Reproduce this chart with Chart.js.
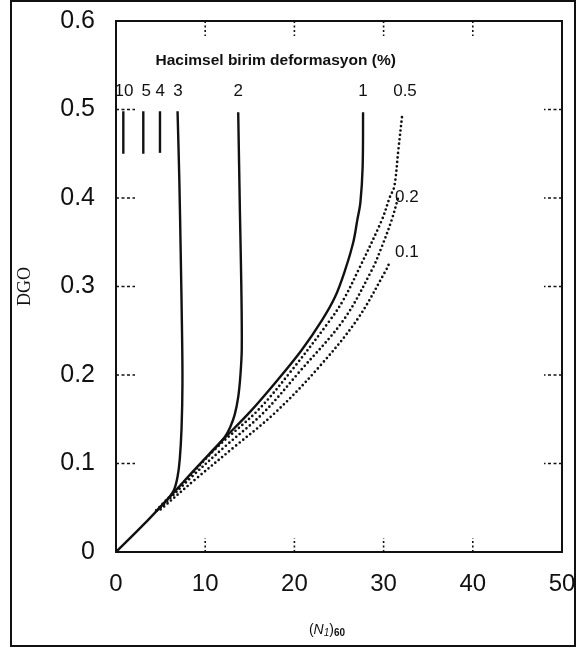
<!DOCTYPE html>
<html lang="tr">
<head>
<meta charset="UTF-8">
<title>DGO - (N1)60</title>
<script src="https://cdn.jsdelivr.net/npm/chart.js@4.4.1/dist/chart.umd.min.js"></script>
<style>
  html, body { margin: 0; padding: 0; background: #fff; }
  #wrap { position: relative; width: 582px; height: 650px; }
</style>
</head>
<body>
<div id="wrap"><canvas id="chart" width="582" height="650"></canvas></div>
<script>
// ---- data ----
const xTickValues = [0, 10, 20, 30, 40, 50];
const yTickValues = [0, 0.1, 0.2, 0.3, 0.4, 0.5, 0.6];

// short vertical marks (10, 5, 4 %)
const curve10X = [0.82, 0.82];
const curve10Y = [0.45, 0.498];
const curve5X = [3.06, 3.06];
const curve5Y = [0.45, 0.498];
const curve4X = [4.93, 4.93];
const curve4Y = [0.451, 0.498];

// 3 %
const curve3X = [4.5, 5.9, 6.5, 6.9, 7.15, 7.35, 7.45, 7.4, 7.25, 7.1, 6.9];
const curve3Y = [0.046, 0.061, 0.07, 0.085, 0.105, 0.14, 0.19, 0.25, 0.34, 0.42, 0.498];

// 2 %
const curve2X = [10.5, 12.2, 12.8, 13.3, 13.7, 13.95, 14.1, 14.05, 13.9, 13.7];
const curve2Y = [0.111, 0.13, 0.141, 0.155, 0.175, 0.2, 0.23, 0.3, 0.38, 0.497];

// 1 %
const curve1X = [0, 3, 6, 9, 12, 15, 18, 20.8, 23.1, 24.55, 25.7, 26.6, 27.05, 27.4, 27.65, 27.7];
const curve1Y = [0, 0.03, 0.062, 0.095, 0.127, 0.158, 0.193, 0.228, 0.262, 0.288, 0.319, 0.35, 0.375, 0.395, 0.435, 0.497];

// dotted 0.5, 0.2, 0.1 %
const curve05X = [4.5, 8, 11.4, 15.9, 19.6, 24.0, 25.5, 27.2, 29.8, 30.7, 31.2, 31.65, 32.1];
const curve05Y = [0.047, 0.083, 0.119, 0.16, 0.204, 0.262, 0.285, 0.319, 0.375, 0.401, 0.413, 0.454, 0.495];
const curve02X = [5, 8.5, 12.2, 16.5, 20.6, 25.5, 28.7, 29.8, 30.9, 31.65];
const curve02Y = [0.05, 0.085, 0.119, 0.157, 0.204, 0.262, 0.319, 0.345, 0.375, 0.401];
const curve01X = [5, 9, 13.3, 17.8, 22.5, 27.0, 30.3, 30.7];
const curve01Y = [0.048, 0.083, 0.119, 0.157, 0.206, 0.262, 0.319, 0.328];

// curve labels (anchored in data units)
const labelText = ['10', '5', '4', '3', '2', '1', '0.5', '0.2', '0.1'];
const labelX = [0.9, 3.4, 4.95, 6.95, 13.7, 27.7, 32.4, 32.6, 32.6];
const labelY = [0.521, 0.521, 0.521, 0.521, 0.521, 0.521, 0.521, 0.401, 0.339];
const headerText = 'Hacimsel birim deformasyon (%)';
const headerX = 17.9;
const headerY = 0.555;

function zip(xs, ys) {
  return xs.map((x, i) => ({ x: x, y: ys[i] }));
}

function solid(xs, ys) {
  return {
    data: zip(xs, ys),
    borderColor: '#111',
    borderWidth: 2.4,
    pointRadius: 0,
    tension: 0.35,
    fill: false
  };
}

function dotted(xs, ys) {
  return {
    data: zip(xs, ys),
    borderColor: '#111',
    borderWidth: 2.7,
    borderDash: [0, 4.5],
    borderCapStyle: 'round',
    pointRadius: 0,
    tension: 0.35,
    fill: false
  };
}

// frame, inner ticks, annotations
const decorations = {
  id: 'decorations',
  afterDraw(chart) {
    const ctx = chart.ctx;
    const a = chart.chartArea;
    const xs = chart.scales.x;
    const ys = chart.scales.y;
    ctx.save();

    // plot frame
    ctx.strokeStyle = '#111';
    ctx.lineWidth = 2;
    ctx.setLineDash([]);
    ctx.strokeRect(a.left, a.top, a.right - a.left, a.bottom - a.top);

    // inner dotted ticks
    ctx.lineWidth = 1.6;
    ctx.setLineDash([2, 2.5]);
    xTickValues.slice(1, -1).forEach(v => {
      const px = xs.getPixelForValue(v);
      ctx.beginPath();
      ctx.moveTo(px, a.bottom); ctx.lineTo(px, a.bottom - 14);
      ctx.moveTo(px, a.top); ctx.lineTo(px, a.top + 15);
      ctx.stroke();
    });
    ctx.setLineDash([3, 2.5]);
    yTickValues.slice(1, -1).forEach(v => {
      const py = ys.getPixelForValue(v);
      ctx.beginPath();
      ctx.moveTo(a.left, py); ctx.lineTo(a.left + 19, py);
      ctx.moveTo(a.right, py); ctx.lineTo(a.right - 18, py);
      ctx.stroke();
    });
    ctx.setLineDash([]);

    // curve labels
    ctx.fillStyle = '#111';
    ctx.textAlign = 'center';
    ctx.textBaseline = 'middle';
    ctx.font = '17px "Liberation Sans", Arial, sans-serif';
    labelText.forEach((t, i) => {
      ctx.fillText(t, xs.getPixelForValue(labelX[i]), ys.getPixelForValue(labelY[i]));
    });
    ctx.font = 'bold 15.5px "Liberation Sans", Arial, sans-serif';
    ctx.fillText(headerText, xs.getPixelForValue(headerX), ys.getPixelForValue(headerY));

    // x axis title (N1)60
    const parts = [
      { t: '(', f: '14px "Liberation Sans", Arial, sans-serif', dy: 0 },
      { t: 'N', f: 'italic 14px "Liberation Sans", Arial, sans-serif', dy: 0 },
      { t: '1', f: 'italic 10px "Liberation Sans", Arial, sans-serif', dy: 3 },
      { t: ')', f: '14px "Liberation Sans", Arial, sans-serif', dy: 0 },
      { t: '60', f: 'bold 10px "Liberation Sans", Arial, sans-serif', dy: 3 }
    ];
    let total = 0;
    parts.forEach(p => { ctx.font = p.f; p.w = ctx.measureText(p.t).width; total += p.w; });
    let cx = a.left + 211 - total / 2;
    const cy = 630;
    ctx.textAlign = 'left';
    parts.forEach(p => {
      ctx.font = p.f;
      ctx.fillText(p.t, cx, cy + p.dy);
      cx += p.w;
    });

    // outer frame of the figure
    ctx.lineWidth = 2;
    ctx.strokeRect(11, 1, 564, 645);
    ctx.restore();
  }
};

// tick spacing through (invisible) tick marks, so it does not add to the edge padding
const hiddenGrid = len => ({
  display: true,
  drawOnChartArea: false,
  drawTicks: true,
  tickLength: len,
  tickColor: 'rgba(0,0,0,0)',
  color: 'rgba(0,0,0,0)'
});

new Chart(document.getElementById('chart'), {
  type: 'line',
  data: {
    datasets: [
      solid(curve10X, curve10Y),
      solid(curve5X, curve5Y),
      solid(curve4X, curve4Y),
      solid(curve3X, curve3Y),
      solid(curve2X, curve2Y),
      solid(curve1X, curve1Y),
      dotted(curve05X, curve05Y),
      dotted(curve02X, curve02Y),
      dotted(curve01X, curve01Y)
    ]
  },
  options: {
    responsive: false,
    animation: false,
    layout: { padding: { left: 0, right: 20, top: 21, bottom: 0 } },
    plugins: {
      legend: { display: false },
      tooltip: { enabled: false }
    },
    scales: {
      x: {
        type: 'linear',
        min: 0,
        max: 50,
        grid: hiddenGrid(18),
        border: { display: false },
        afterBuildTicks: s => { s.ticks = xTickValues.map(v => ({ value: v })); },
        afterFit: s => { s.height = 98; },
        ticks: {
          padding: 0,
          color: '#111',
          font: { family: '"Liberation Sans", Arial, sans-serif', size: 24 },
          callback: v => String(v)
        }
      },
      y: {
        type: 'linear',
        min: 0,
        max: 0.6,
        grid: hiddenGrid(21),
        border: { display: false },
        afterBuildTicks: s => { s.ticks = yTickValues.map(v => ({ value: v })); },
        afterFit: s => { s.width = 116; },
        title: {
          display: true,
          text: 'DGO',
          color: '#111',
          padding: { top: 14, bottom: 0 },
          font: { family: '"Liberation Serif", "Times New Roman", serif', size: 18 }
        },
        ticks: {
          padding: 0,
          color: '#111',
          font: { family: '"Liberation Sans", Arial, sans-serif', size: 25 },
          callback: v => (v === 0 ? '0' : v.toFixed(1))
        }
      }
    }
  },
  plugins: [decorations]
});
</script>
</body>
</html>
